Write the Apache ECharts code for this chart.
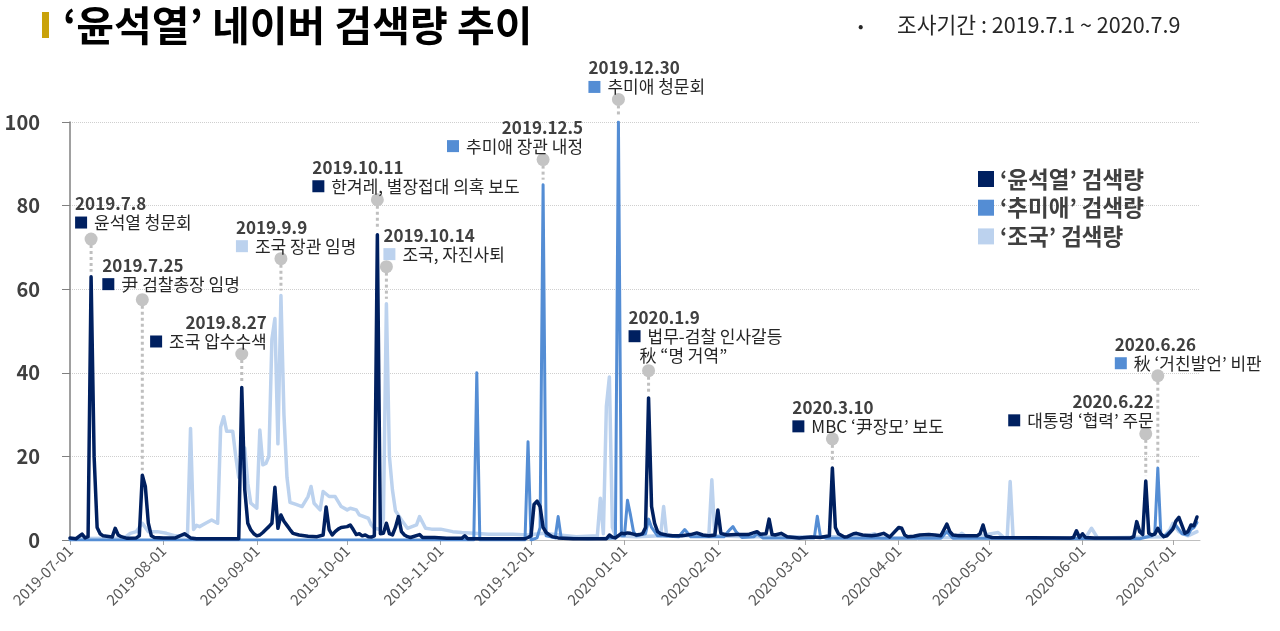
<!DOCTYPE html>
<html>
<head>
<meta charset="utf-8">
<title>윤석열 네이버 검색량 추이</title>
<script src="https://cdn.jsdelivr.net/npm/echarts@6/dist/echarts.min.js"></script>
<style>
  html, body { margin: 0; padding: 0; background: #fff; }
  #main { width: 1280px; height: 631px; }
</style>
</head>
<body>
<div id="main"></div>
<script>
// ---- data (daily search index) ----
const seriesNames = ['‘윤석열’ 검색량', '‘추미애’ 검색량', '‘조국’ 검색량']

const yoonPoints = [
  ['2019-07-01', 0.5], ['2019-07-03', 0.3], ['2019-07-05', 1.4], ['2019-07-06', 0.5], ['2019-07-07', 0.8],
  ['2019-07-08', 63], ['2019-07-09', 20], ['2019-07-10', 3], ['2019-07-11', 1.5], ['2019-07-12', 1],
  ['2019-07-15', 0.7], ['2019-07-16', 2.8], ['2019-07-17', 1.2], ['2019-07-18', 0.8], ['2019-07-20', 0.4],
  ['2019-07-23', 0.5], ['2019-07-24', 1], ['2019-07-25', 15.5], ['2019-07-26', 12.8], ['2019-07-27', 4],
  ['2019-07-28', 1], ['2019-07-29', 0.6], ['2019-08-01', 0.5], ['2019-08-05', 0.5], ['2019-08-08', 1.5],
  ['2019-08-10', 0.5], ['2019-08-12', 0.3], ['2019-08-26', 0.3], ['2019-08-27', 36.5], ['2019-08-28', 12],
  ['2019-08-29', 4], ['2019-08-30', 2.4], ['2019-08-31', 1.5], ['2019-09-01', 1], ['2019-09-02', 1.2],
  ['2019-09-03', 1.8], ['2019-09-04', 2.5], ['2019-09-05', 3.2], ['2019-09-06', 4], ['2019-09-07', 12.6],
  ['2019-09-08', 2.8], ['2019-09-09', 6], ['2019-09-10', 4.5], ['2019-09-11', 3.5], ['2019-09-12', 2.5],
  ['2019-09-13', 1.6], ['2019-09-15', 1.2], ['2019-09-18', 0.9], ['2019-09-21', 0.8], ['2019-09-23', 1.2],
  ['2019-09-24', 7.9], ['2019-09-25', 2.5], ['2019-09-26', 1.2], ['2019-09-27', 2], ['2019-09-28', 2.6],
  ['2019-09-29', 3], ['2019-10-01', 3.2], ['2019-10-02', 3.6], ['2019-10-03', 2.5], ['2019-10-04', 1.3],
  ['2019-10-05', 1.5], ['2019-10-06', 1], ['2019-10-07', 1.2], ['2019-10-08', 0.8], ['2019-10-09', 0.7],
  ['2019-10-10', 1], ['2019-10-11', 73], ['2019-10-12', 1.5], ['2019-10-13', 1.6], ['2019-10-14', 4],
  ['2019-10-15', 1.5], ['2019-10-16', 1.2], ['2019-10-17', 3], ['2019-10-18', 5.6], ['2019-10-19', 2],
  ['2019-10-20', 1.2], ['2019-10-21', 0.8], ['2019-10-22', 0.6], ['2019-10-25', 1.3], ['2019-10-26', 0.6],
  ['2019-10-30', 0.6], ['2019-11-03', 0.4], ['2019-11-08', 0.4], ['2019-11-09', 1], ['2019-11-10', 0.3],
  ['2019-11-29', 0.3], ['2019-11-30', 0.6], ['2019-12-01', 1], ['2019-12-02', 8.5], ['2019-12-03', 9.3],
  ['2019-12-04', 8], ['2019-12-05', 3], ['2019-12-06', 1.8], ['2019-12-07', 1.3], ['2019-12-08', 0.8],
  ['2019-12-10', 0.5], ['2019-12-15', 0.3], ['2019-12-26', 0.3], ['2019-12-27', 1.2], ['2019-12-28', 0.7],
  ['2019-12-29', 0.5], ['2019-12-31', 1.6], ['2020-01-01', 1.5], ['2020-01-02', 1.7], ['2020-01-03', 1.6],
  ['2020-01-04', 1.4], ['2020-01-05', 1.2], ['2020-01-06', 1.3], ['2020-01-07', 1.5], ['2020-01-08', 3],
  ['2020-01-09', 34], ['2020-01-10', 8], ['2020-01-11', 4], ['2020-01-12', 2], ['2020-01-13', 1.5],
  ['2020-01-15', 1.2], ['2020-01-17', 1], ['2020-01-20', 1], ['2020-01-23', 1.3], ['2020-01-25', 1.7],
  ['2020-01-27', 1.2], ['2020-01-29', 1], ['2020-01-31', 1.2], ['2020-02-01', 7.2], ['2020-02-02', 1.6],
  ['2020-02-04', 1.2], ['2020-02-07', 1.3], ['2020-02-11', 1.3], ['2020-02-14', 2], ['2020-02-15', 1.4],
  ['2020-02-17', 1.5], ['2020-02-18', 5], ['2020-02-19', 1.3], ['2020-02-20', 1.2], ['2020-02-22', 1.6],
  ['2020-02-24', 0.8], ['2020-02-28', 0.5], ['2020-03-03', 0.7], ['2020-03-06', 0.6], ['2020-03-09', 1],
  ['2020-03-10', 17.2], ['2020-03-11', 3], ['2020-03-12', 1.5], ['2020-03-14', 0.7], ['2020-03-15', 0.8],
  ['2020-03-17', 1.5], ['2020-03-18', 1.6], ['2020-03-20', 1.2], ['2020-03-23', 1], ['2020-03-25', 1.2],
  ['2020-03-27', 1.6], ['2020-03-29', 0.7], ['2020-04-01', 3], ['2020-04-02', 2.8], ['2020-04-03', 1.2],
  ['2020-04-04', 0.8], ['2020-04-06', 0.9], ['2020-04-08', 1.2], ['2020-04-11', 1.3], ['2020-04-13', 1.2],
  ['2020-04-15', 1], ['2020-04-17', 3.8], ['2020-04-18', 2], ['2020-04-19', 1.2], ['2020-04-21', 1],
  ['2020-04-24', 1], ['2020-04-27', 1], ['2020-04-28', 1.5], ['2020-04-29', 3.6], ['2020-04-30', 1],
  ['2020-05-02', 0.6], ['2020-05-28', 0.5], ['2020-05-29', 0.6], ['2020-05-30', 2.2], ['2020-05-31', 0.6],
  ['2020-06-01', 1.5], ['2020-06-02', 0.6], ['2020-06-05', 0.5], ['2020-06-17', 0.5], ['2020-06-18', 0.8],
  ['2020-06-19', 4.4], ['2020-06-20', 2], ['2020-06-21', 1.3], ['2020-06-22', 14.1], ['2020-06-23', 1.6],
  ['2020-06-24', 1.2], ['2020-06-25', 1.4], ['2020-06-26', 2.8], ['2020-06-27', 1.5], ['2020-06-28', 0.8],
  ['2020-06-29', 1], ['2020-06-30', 1.8], ['2020-07-01', 2.6], ['2020-07-02', 4.5], ['2020-07-03', 5.4],
  ['2020-07-04', 3.5], ['2020-07-05', 1.6], ['2020-07-06', 2], ['2020-07-07', 3.6], ['2020-07-08', 3.4],
  ['2020-07-09', 5.5]
]

const chuPoints = [
  ['2019-07-01', 0], ['2019-11-12', 0], ['2019-11-13', 40], ['2019-11-14', 0], ['2019-11-29', 0],
  ['2019-11-30', 23.5], ['2019-12-01', 0], ['2019-12-03', 0.5], ['2019-12-04', 3], ['2019-12-05', 85],
  ['2019-12-06', 1], ['2019-12-09', 0.5], ['2019-12-10', 5.6], ['2019-12-11', 0.5], ['2019-12-20', 0.3],
  ['2019-12-29', 0.5], ['2019-12-30', 100], ['2019-12-31', 1], ['2020-01-01', 1], ['2020-01-02', 9.5],
  ['2020-01-03', 6], ['2020-01-04', 2], ['2020-01-05', 1], ['2020-01-08', 1.5], ['2020-01-09', 5],
  ['2020-01-10', 3], ['2020-01-12', 1], ['2020-01-19', 0.8], ['2020-01-21', 2.5], ['2020-01-23', 0.8],
  ['2020-02-03', 0.8], ['2020-02-05', 2.5], ['2020-02-06', 3.2], ['2020-02-07', 2], ['2020-02-09', 0.6],
  ['2020-02-13', 0.8], ['2020-02-14', 1.5], ['2020-02-16', 0.5], ['2020-03-04', 0.5], ['2020-03-05', 5.7],
  ['2020-03-06', 1], ['2020-03-08', 0.4], ['2020-04-15', 0.4], ['2020-04-17', 2], ['2020-04-19', 0.4],
  ['2020-06-20', 0.3], ['2020-06-24', 1], ['2020-06-25', 1.6], ['2020-06-26', 17.2], ['2020-06-27', 1.5],
  ['2020-06-28', 0.8], ['2020-06-30', 2], ['2020-07-01', 3], ['2020-07-02', 3.5], ['2020-07-04', 1.5],
  ['2020-07-06', 1.2], ['2020-07-07', 2.5], ['2020-07-08', 3], ['2020-07-09', 4.2]
]

const joPoints = [
  ['2019-07-01', 0.3], ['2019-07-19', 0.5], ['2019-07-21', 1.6], ['2019-07-23', 2], ['2019-07-25', 4],
  ['2019-07-27', 2], ['2019-07-30', 2], ['2019-08-02', 1.6], ['2019-08-05', 1], ['2019-08-08', 1],
  ['2019-08-09', 1.5], ['2019-08-10', 26.7], ['2019-08-11', 2.5], ['2019-08-12', 3.5], ['2019-08-13', 3.2],
  ['2019-08-15', 4], ['2019-08-17', 4.8], ['2019-08-19', 4], ['2019-08-20', 27], ['2019-08-21', 29.5],
  ['2019-08-22', 26], ['2019-08-24', 26], ['2019-08-25', 20], ['2019-08-26', 15], ['2019-08-27', 18],
  ['2019-08-28', 22], ['2019-08-29', 13.6], ['2019-08-30', 8.8], ['2019-09-01', 7.6], ['2019-09-02', 26.3],
  ['2019-09-03', 18], ['2019-09-04', 18.3], ['2019-09-05', 20], ['2019-09-06', 48], ['2019-09-07', 53],
  ['2019-09-08', 23], ['2019-09-09', 58.5], ['2019-09-10', 30], ['2019-09-11', 15], ['2019-09-12', 9],
  ['2019-09-14', 8.5], ['2019-09-16', 8], ['2019-09-18', 10.4], ['2019-09-19', 12.8], ['2019-09-20', 8.8],
  ['2019-09-22', 7.2], ['2019-09-23', 11.6], ['2019-09-25', 10.4], ['2019-09-27', 10.4], ['2019-09-29', 8],
  ['2019-10-01', 7.2], ['2019-10-02', 7.6], ['2019-10-04', 7.2], ['2019-10-05', 6], ['2019-10-08', 5.2],
  ['2019-10-09', 3.6], ['2019-10-10', 2.8], ['2019-10-12', 2.5], ['2019-10-13', 5], ['2019-10-14', 56.5],
  ['2019-10-15', 20], ['2019-10-16', 12], ['2019-10-17', 7], ['2019-10-19', 4.8], ['2019-10-21', 2.8],
  ['2019-10-24', 3.6], ['2019-10-25', 5.6], ['2019-10-27', 2.8], ['2019-10-29', 2.6], ['2019-11-01', 2.6],
  ['2019-11-05', 2], ['2019-11-08', 1.8], ['2019-11-12', 1.6], ['2019-11-17', 1.4], ['2019-11-25', 1.4],
  ['2019-11-30', 1.2], ['2019-12-05', 1.6], ['2019-12-16', 0.8], ['2019-12-23', 1], ['2019-12-24', 10],
  ['2019-12-25', 1.5], ['2019-12-26', 32], ['2019-12-27', 39], ['2019-12-28', 3], ['2019-12-29', 1],
  ['2020-01-05', 0.8], ['2020-01-13', 1], ['2020-01-14', 8], ['2020-01-15', 1], ['2020-01-29', 1],
  ['2020-01-30', 14.4], ['2020-01-31', 1], ['2020-02-10', 0.8], ['2020-03-20', 0.8], ['2020-03-24', 1.5],
  ['2020-03-26', 0.5], ['2020-04-20', 0.6], ['2020-04-22', 1.6], ['2020-04-24', 0.5], ['2020-05-04', 1.8],
  ['2020-05-06', 0.5], ['2020-05-07', 0.5], ['2020-05-08', 14], ['2020-05-09', 0.5], ['2020-06-02', 0.5],
  ['2020-06-04', 2.8], ['2020-06-06', 0.5], ['2020-06-28', 0.8], ['2020-06-30', 2.5], ['2020-07-01', 4],
  ['2020-07-03', 2], ['2020-07-06', 1], ['2020-07-09', 2]
]

// ---- event notes ----
const noteSeries = [0, 0, 0, 2, 0, 2, 1, 1, 0, 0, 0, 1]
const noteDates = ['2019-07-08', '2019-07-25', '2019-08-27', '2019-09-09', '2019-10-11', '2019-10-14',
  '2019-12-05', '2019-12-30', '2020-01-09', '2020-03-10', '2020-06-22', '2020-06-26']
const notePeaks = [63, 15.5, 36.5, 58.5, 73, 56.5, 85, 100, 34, 17.2, 14.1, 17.2]
const noteDots = [72, 57.5, 44.5, 67.3, 81.4, 65.4, 91, 105.4, 40.5, 24.2, 25.4, 39.3]
const noteTitles = ['2019.7.8', '2019.7.25', '2019.8.27', '2019.9.9', '2019.10.11', '2019.10.14',
  '2019.12.5', '2019.12.30', '2020.1.9', '2020.3.10', '2020.6.22', '2020.6.26']
const noteTexts = [
  ['윤석열 청문회'], ['尹 검찰총장 임명'], ['조국 압수수색'], ['조국 장관 임명'],
  ['한겨레, 별장접대 의혹 보도'], ['조국, 자진사퇴'], ['추미애 장관 내정'], ['추미애 청문회'],
  ['법무-검찰 인사갈등', '秋 “명 거역”'], ['MBC ‘尹장모’ 보도'], ['대통령 ‘협력’ 주문'], ['秋 ‘거친발언’ 비판']
]
// label placement relative to the grey dot: [dx, dy, align]
const noteLayout = [
  [-16, -7, 'left'], [-40, -6, 'left'], [25, -3, 'right'], [-45, -3, 'left'],
  [-65, -4, 'left'], [-3, -3, 'left'], [40, -4, 'right'], [-30, -3, 'left'],
  [-20, -6, 'left'], [-40, -3, 'left'], [8, -4, 'right'], [-43, -3, 'left']
]

const colors = ['#002060', '#548DD4', '#BCD2EE']
const FONT = '"Noto Sans CJK KR", "Noto Sans", sans-serif'
const DAY = 86400000

function ts (s) {
  const p = s.split('-').map(Number)
  return new Date(p[0], p[1] - 1, p[2]).getTime()
}
function pad (n) { return n < 10 ? '0' + n : '' + n }

const chart = echarts.init(document.getElementById('main'))

function buildSeries (idx, points, width, z) {
  return {
    name: seriesNames[idx],
    type: 'line',
    z: z,
    showSymbol: false,
    color: colors[idx],
    lineStyle: { width: width, color: colors[idx], join: 'round', cap: 'round' },
    emphasis: { disabled: true },
    data: points.map(p => [ts(p[0]), p[1]])
  }
}

const option = {
  animation: false,
  textStyle: { fontFamily: FONT },
  grid: { left: 70, right: 80, top: 122, bottom: 91 },
  xAxis: {
    type: 'time',
    min: ts('2019-07-01'),
    max: ts('2020-07-10'),
    splitNumber: 12,
    minInterval: 28 * DAY,
    maxInterval: 31 * DAY,
    axisLine: { lineStyle: { color: '#bfbfbf', width: 1 } },
    axisTick: { show: true, length: 5, lineStyle: { color: '#a6a6a6' } },
    splitLine: { show: false },
    axisLabel: {
      rotate: 45,
      fontSize: 15,
      color: '#595959',
      margin: 8,
      hideOverlap: false,
      formatter: function (v) {
        const d = new Date(v)
        return d.getFullYear() + '-' + pad(d.getMonth() + 1) + '-' + pad(d.getDate())
      }
    }
  },
  yAxis: {
    type: 'value',
    min: 0,
    max: 100,
    interval: 20,
    axisLine: { show: true, lineStyle: { color: '#808080', width: 1.5 } },
    axisTick: { show: true, length: 8, lineStyle: { color: '#808080' } },
    axisLabel: { fontSize: 20, fontWeight: 'bold', color: '#404040', margin: 30 },
    splitLine: { lineStyle: { type: 'dotted', color: '#cfcfcf' } }
  },
  series: [
    buildSeries(0, yoonPoints, 3.5, 5),
    buildSeries(1, chuPoints, 3, 4),
    buildSeries(2, joPoints, 3.5, 3)
  ]
}
chart.setOption(option)

// title, subtitle, legend and event notes (dot + dotted stem + label)
const graphics = [
  { type: 'rect', shape: { x: 42, y: 12, width: 7, height: 26 }, style: { fill: '#C9A20A' } },
  {
    type: 'text', x: 63, y: 25,
    style: { text: '‘윤석열’ 네이버 검색량 추이', font: 'bold 41px ' + FONT, fill: '#000', verticalAlign: 'middle' }
  },
  {
    type: 'text', x: 858, y: 26,
    style: { text: '•', font: '16px ' + FONT, fill: '#262626', verticalAlign: 'middle' }
  },
  {
    type: 'text', x: 897, y: 25,
    style: { text: '조사기간 : 2019.7.1 ~ 2020.7.9', font: '21.5px ' + FONT, fill: '#262626', verticalAlign: 'middle' }
  }
]

seriesNames.forEach((name, i) => {
  const cy = 179 + i * 28.7
  graphics.push({
    type: 'rect', z: 100,
    shape: { x: 978, y: cy - 8, width: 16, height: 16 },
    style: { fill: colors[i] }
  })
  graphics.push({
    type: 'text', x: 1000, y: cy, z: 100,
    style: { text: name, font: 'bold 22.5px ' + FONT, fill: '#404040', verticalAlign: 'middle' }
  })
})

noteDates.forEach((d, i) => {
  const dot = chart.convertToPixel({ gridIndex: 0 }, [ts(d), noteDots[i]])
  const top = chart.convertToPixel({ gridIndex: 0 }, [ts(d), notePeaks[i] + 1.2])
  const lay = noteLayout[i]
  const lines = noteTexts[i]
  let txt = '{d|' + noteTitles[i] + '}\n{sq|}{t|' + lines[0] + '}'
  for (let k = 1; k < lines.length; k++) txt += '\n{ind|' + lines[k] + '}'
  graphics.push({
    type: 'line',
    z: 90,
    shape: { x1: dot[0], y1: dot[1], x2: top[0], y2: top[1] },
    style: { stroke: '#bfbfbf', lineWidth: 3, lineDash: [3, 3] }
  })
  graphics.push({
    type: 'circle',
    z: 91,
    shape: { cx: dot[0], cy: dot[1], r: 6.5 },
    style: { fill: '#c4c4c4' }
  })
  graphics.push({
    type: 'text',
    x: dot[0] + lay[0],
    y: dot[1] + lay[1],
    z: 100,
    style: {
      text: txt,
      align: lay[2],
      verticalAlign: 'bottom',
      rich: {
        d: { fontSize: 17, fontWeight: 'bold', fill: '#404040', fontFamily: FONT, lineHeight: 19 },
        sq: { width: 12, height: 12, backgroundColor: colors[noteSeries[i]] },
        t: { fontSize: 17, fill: '#262626', fontFamily: FONT, lineHeight: 19, padding: [0, 0, 0, 7] },
        ind: { fontSize: 17, fill: '#262626', fontFamily: FONT, lineHeight: 19, padding: [0, 0, 0, 11] }
      }
    }
  })
})

chart.setOption({ graphic: graphics })
</script>
</body>
</html>
